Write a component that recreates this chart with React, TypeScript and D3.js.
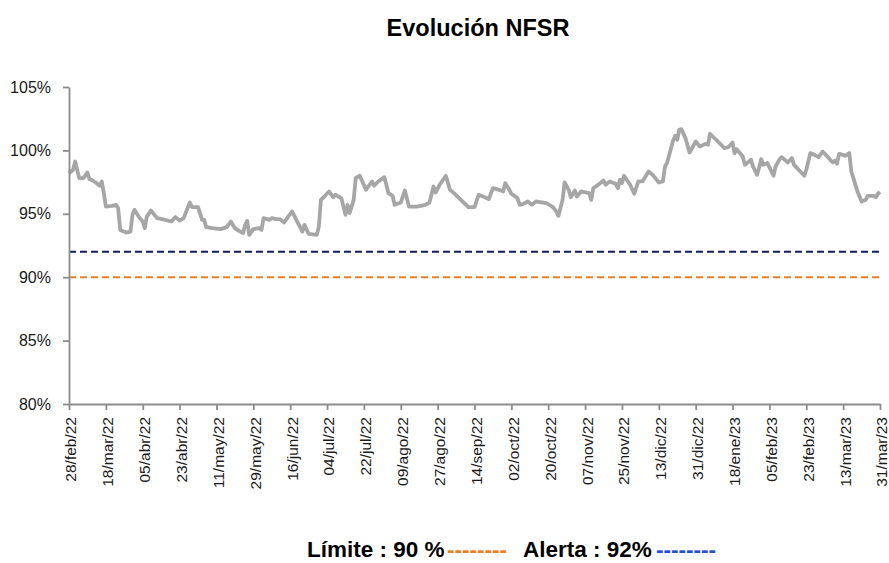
import React, { useEffect, useRef } from "react";
import * as d3 from "d3";

// NFSR diario (en %)
const dates = [
  "2022-02-28", "2022-03-02", "2022-03-03", "2022-03-05", "2022-03-07", "2022-03-09", "2022-03-10", "2022-03-11",
  "2022-03-13", "2022-03-15", "2022-03-16", "2022-03-17", "2022-03-18", "2022-03-21", "2022-03-23", "2022-03-24",
  "2022-03-25", "2022-03-28", "2022-03-30", "2022-03-31", "2022-04-01", "2022-04-03", "2022-04-05", "2022-04-06",
  "2022-04-07", "2022-04-09", "2022-04-12", "2022-04-14", "2022-04-19", "2022-04-21", "2022-04-23", "2022-04-25",
  "2022-04-28", "2022-04-29", "2022-05-02", "2022-05-04", "2022-05-05", "2022-05-06", "2022-05-09", "2022-05-13",
  "2022-05-16", "2022-05-18", "2022-05-20", "2022-05-22", "2022-05-24", "2022-05-25", "2022-05-26", "2022-05-27",
  "2022-05-29", "2022-06-01", "2022-06-02", "2022-06-03", "2022-06-06", "2022-06-07", "2022-06-09", "2022-06-11",
  "2022-06-13", "2022-06-15", "2022-06-17", "2022-06-19", "2022-06-22", "2022-06-23", "2022-06-25", "2022-06-29",
  "2022-06-30", "2022-07-01", "2022-07-03", "2022-07-05", "2022-07-07", "2022-07-08", "2022-07-11", "2022-07-13",
  "2022-07-14", "2022-07-15", "2022-07-17", "2022-07-18", "2022-07-20", "2022-07-23", "2022-07-26", "2022-07-27",
  "2022-07-29", "2022-08-01", "2022-08-03", "2022-08-05", "2022-08-06", "2022-08-09", "2022-08-11", "2022-08-13",
  "2022-08-17", "2022-08-21", "2022-08-23", "2022-08-25", "2022-08-26", "2022-08-28", "2022-08-31", "2022-09-02",
  "2022-09-04", "2022-09-09", "2022-09-11", "2022-09-14", "2022-09-16", "2022-09-19", "2022-09-21", "2022-09-23",
  "2022-09-26", "2022-09-28", "2022-09-29", "2022-10-01", "2022-10-02", "2022-10-05", "2022-10-06", "2022-10-08",
  "2022-10-10", "2022-10-12", "2022-10-14", "2022-10-19", "2022-10-22", "2022-10-24", "2022-10-25", "2022-10-27",
  "2022-10-28", "2022-10-30", "2022-10-31", "2022-11-02", "2022-11-03", "2022-11-05", "2022-11-09", "2022-11-10",
  "2022-11-11", "2022-11-14", "2022-11-16", "2022-11-17", "2022-11-19", "2022-11-22", "2022-11-23", "2022-11-24",
  "2022-11-25", "2022-11-26", "2022-11-29", "2022-12-01", "2022-12-03", "2022-12-05", "2022-12-08", "2022-12-10",
  "2022-12-13", "2022-12-15", "2022-12-16", "2022-12-17", "2022-12-20", "2022-12-21", "2022-12-22", "2022-12-23",
  "2022-12-24", "2022-12-26", "2022-12-28", "2022-12-31", "2023-01-02", "2023-01-05", "2023-01-06", "2023-01-07",
  "2023-01-10", "2023-01-14", "2023-01-16", "2023-01-18", "2023-01-19", "2023-01-20", "2023-01-23", "2023-01-24",
  "2023-01-26", "2023-01-27", "2023-01-28", "2023-01-30", "2023-02-01", "2023-02-02", "2023-02-04", "2023-02-07",
  "2023-02-08", "2023-02-10", "2023-02-11", "2023-02-14", "2023-02-16", "2023-02-17", "2023-02-19", "2023-02-22",
  "2023-02-23", "2023-02-25", "2023-02-27", "2023-03-01", "2023-03-03", "2023-03-05", "2023-03-07", "2023-03-08",
  "2023-03-09", "2023-03-10", "2023-03-11", "2023-03-13", "2023-03-14", "2023-03-16", "2023-03-17", "2023-03-18",
  "2023-03-20", "2023-03-22", "2023-03-24", "2023-03-25", "2023-03-28", "2023-03-29", "2023-03-30", "2023-03-31",
];

const nfsr = [
  98.2, 98.47, 99.12, 97.81, 97.81, 98.26, 97.73, 97.68,
  97.47, 97.21, 97.55, 96.63, 95.57, 95.63, 95.71, 95.45,
  93.73, 93.52, 93.6, 94.92, 95.31, 94.78, 94.39, 93.87,
  94.78, 95.26, 94.66, 94.6, 94.39, 94.74, 94.47, 94.66,
  95.89, 95.53, 95.53, 94.52, 94.52, 93.95, 93.87, 93.79,
  93.95, 94.39, 93.87, 93.65, 93.47, 94.13, 94.44, 93.34,
  93.79, 93.87, 93.73, 94.66, 94.52, 94.66, 94.58, 94.58,
  94.31, 94.78, 95.18, 94.52, 93.6, 94.13, 93.42, 93.34,
  93.99, 96.1, 96.42, 96.76, 96.31, 96.5, 96.24, 94.92,
  95.71, 95.05, 96.1, 97.81, 98.0, 96.89, 97.55, 97.21,
  97.55, 97.89, 96.63, 96.42, 95.71, 95.89, 96.84, 95.57,
  95.57, 95.71, 95.89, 97.15, 96.68, 97.29, 98.0, 96.89,
  96.63, 95.84, 95.53, 95.53, 96.5, 96.31, 96.16, 97.02,
  96.89, 96.76, 97.42, 96.89, 96.58, 96.24, 95.71, 95.79,
  95.97, 95.71, 95.97, 95.84, 95.57, 95.18, 94.84, 96.1,
  97.47, 96.89, 96.31, 96.84, 96.36, 96.76, 96.63, 96.1,
  97.02, 97.36, 97.62, 97.29, 97.55, 97.36, 97.02, 97.68,
  97.42, 98.0, 97.29, 96.58, 97.55, 97.55, 98.34, 98.07,
  97.47, 97.55, 98.73, 99.0, 100.78, 101.15, 100.84, 101.63,
  101.68, 100.97, 99.83, 100.7, 100.31, 100.52, 100.44, 101.31,
  100.84, 100.18, 100.26, 100.62, 99.79, 100.1, 99.52, 98.86,
  99.12, 99.26, 98.73, 98.07, 99.31, 98.86, 99.0, 98.0,
  98.73, 99.31, 99.47, 99.05, 99.39, 98.86, 98.52, 98.0,
  98.47, 99.79, 99.65, 99.47, 99.91, 99.57, 99.2, 99.05,
  99.2, 98.94, 99.73, 99.65, 99.57, 99.79, 98.34, 97.81,
  96.76, 95.97, 96.1, 96.42, 96.42, 96.31, 96.58, 96.73,
];

const tickLabels = [
  "28/feb/22", "18/mar/22", "05/abr/22", "23/abr/22", "11/may/22", "29/may/22",
  "16/jun/22", "04/jul/22", "22/jul/22", "09/ago/22", "27/ago/22", "14/sep/22",
  "02/oct/22", "20/oct/22", "07/nov/22", "25/nov/22", "13/dic/22", "31/dic/22",
  "18/ene/23", "05/feb/23", "23/feb/23", "13/mar/23", "31/mar/23",
];

const yTicks = [80, 85, 90, 95, 100, 105];
const limite = 90;
const alerta = 92;

const es = d3.timeFormatLocale({
  dateTime: "%x %X",
  date: "%d/%m/%Y",
  time: "%H:%M:%S",
  periods: ["AM", "PM"],
  days: ["domingo", "lunes", "martes", "miércoles", "jueves", "viernes", "sábado"],
  shortDays: ["dom", "lun", "mar", "mié", "jue", "vie", "sáb"],
  months: ["enero", "febrero", "marzo", "abril", "mayo", "junio", "julio", "agosto",
    "septiembre", "octubre", "noviembre", "diciembre"],
  shortMonths: ["ene", "feb", "mar", "abr", "may", "jun", "jul", "ago", "sep", "oct", "nov", "dic"],
});

const FONT = "'Liberation Sans', Arial, sans-serif";

export default function App() {
  const ref = useRef<SVGSVGElement>(null);

  useEffect(() => {
    const svg = d3.select(ref.current);
    svg.selectAll("*").remove();

    const parseDay = d3.timeParse("%Y-%m-%d");
    const parseTick = es.parse("%d/%b/%y");
    const fmtTick = es.format("%d/%b/%y");
    const data = dates.map((d, i) => ({ date: parseDay(d) as Date, value: nfsr[i] }));
    const tickDates = tickLabels.map((t) => parseTick(t) as Date);

    const x = d3.scaleTime()
      .domain([tickDates[0], tickDates[tickDates.length - 1]])
      .range([69, 880]);
    const y = d3.scaleLinear().domain([80, 105]).range([404, 87]);

    svg.append("text")
      .attr("x", 478)
      .attr("y", 36)
      .attr("text-anchor", "middle")
      .style("font-family", FONT)
      .style("font-weight", "bold")
      .style("font-size", "23.5px")
      .text("Evolución NFSR");

    // líneas de referencia
    const refs = [
      { v: limite, color: "#EE7D22" },
      { v: alerta, color: "#0F1F5C" },
    ];
    svg.selectAll("line.ref").data(refs).enter().append("line")
      .attr("class", "ref")
      .attr("x1", x.range()[0])
      .attr("x2", x.range()[1])
      .attr("y1", (d) => y(d.v))
      .attr("y2", (d) => y(d.v))
      .attr("stroke", (d) => d.color)
      .attr("stroke-width", 2)
      .attr("stroke-dasharray", "7,4");

    const line = d3.line<{ date: Date; value: number }>()
      .x((d) => x(d.date))
      .y((d) => y(d.value));

    svg.append("path")
      .datum(data)
      .attr("d", line)
      .attr("fill", "none")
      .attr("stroke", "#A6A6A6")
      .attr("stroke-width", 3.8)
      .attr("stroke-linejoin", "round");

    const yAxis = svg.append("g")
      .attr("transform", `translate(${x.range()[0]},0)`)
      .call(d3.axisLeft(y).tickValues(yTicks).tickSize(6).tickSizeOuter(0).tickPadding(12)
        .tickFormat((d) => `${d}%`));

    const xAxis = svg.append("g")
      .attr("transform", `translate(0,${y.range()[0]})`)
      .call(d3.axisBottom(x).tickValues(tickDates).tickSize(6).tickSizeOuter(0)
        .tickFormat((d) => fmtTick(d as Date)));

    [yAxis, xAxis].forEach((g) => {
      g.select(".domain").attr("stroke", "#8C8C8C").attr("stroke-width", 1.8);
      g.selectAll(".tick line").attr("stroke", "#8C8C8C").attr("stroke-width", 1.8);
      g.selectAll("text").style("font-family", FONT).attr("fill", "#1A1A1A");
    });
    yAxis.selectAll("text").style("font-size", "16px");
    xAxis.selectAll("text")
      .style("font-size", "15.5px")
      .attr("transform", "rotate(-90)")
      .attr("text-anchor", "end")
      .attr("x", -13)
      .attr("y", 1.5)
      .attr("dy", "0.35em");

    // leyenda
    const legend = [
      { x: 307, text: "Límite : 90 %", color: "#000" },
      { x: 447, text: "--------", color: "#F07D1B" },
      { x: 523, text: "Alerta : 92%", color: "#000" },
      { x: 656, text: "--------", color: "#1F4EDB" },
    ];
    svg.selectAll("text.legend").data(legend).enter().append("text")
      .attr("class", "legend")
      .attr("x", (d) => d.x)
      .attr("y", 557)
      .attr("fill", (d) => d.color)
      .style("font-family", FONT)
      .style("font-size", "22.5px")
      .style("font-weight", "bold")
      .text((d) => d.text);
  }, []);

  return (
    <svg
      ref={ref}
      width={889}
      height={563}
      style={{ position: "absolute", left: 0, top: 0, background: "#fff" }}
    />
  );
}
